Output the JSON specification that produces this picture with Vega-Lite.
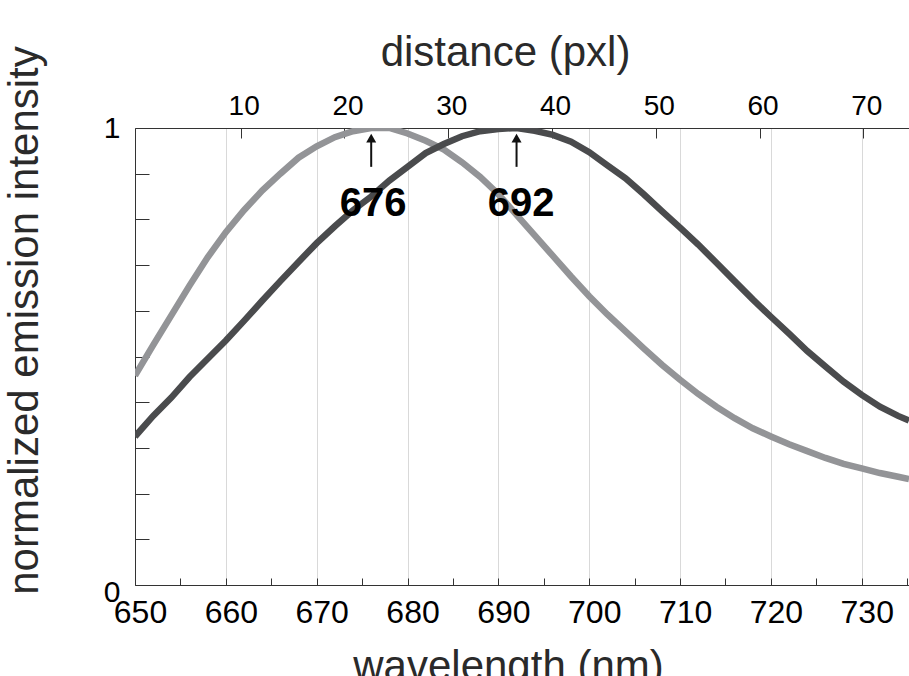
{
  "$schema": "https://vega.github.io/schema/vega-lite/v6.json",
  "width": 774,
  "height": 457,
  "autosize": {"type": "none"},
  "padding": {"left": 135, "top": 128, "right": 0, "bottom": 91},
  "config": {"view": {"stroke": null}, "font": "Liberation Sans"},
  "datasets": {
    "spectra": [
      {"wavelength": 650, "intensity": 0.458, "peak": "676"},
      {"wavelength": 652, "intensity": 0.525, "peak": "676"},
      {"wavelength": 654, "intensity": 0.59, "peak": "676"},
      {"wavelength": 656, "intensity": 0.655, "peak": "676"},
      {"wavelength": 658, "intensity": 0.717, "peak": "676"},
      {"wavelength": 660, "intensity": 0.772, "peak": "676"},
      {"wavelength": 662, "intensity": 0.82, "peak": "676"},
      {"wavelength": 664, "intensity": 0.863, "peak": "676"},
      {"wavelength": 666, "intensity": 0.9, "peak": "676"},
      {"wavelength": 668, "intensity": 0.935, "peak": "676"},
      {"wavelength": 670, "intensity": 0.96, "peak": "676"},
      {"wavelength": 672, "intensity": 0.98, "peak": "676"},
      {"wavelength": 674, "intensity": 0.993, "peak": "676"},
      {"wavelength": 676, "intensity": 1.0, "peak": "676"},
      {"wavelength": 678, "intensity": 1.0, "peak": "676"},
      {"wavelength": 680, "intensity": 0.988, "peak": "676"},
      {"wavelength": 682, "intensity": 0.972, "peak": "676"},
      {"wavelength": 684, "intensity": 0.953, "peak": "676"},
      {"wavelength": 686, "intensity": 0.925, "peak": "676"},
      {"wavelength": 688, "intensity": 0.893, "peak": "676"},
      {"wavelength": 690, "intensity": 0.855, "peak": "676"},
      {"wavelength": 692, "intensity": 0.81, "peak": "676"},
      {"wavelength": 694, "intensity": 0.765, "peak": "676"},
      {"wavelength": 696, "intensity": 0.72, "peak": "676"},
      {"wavelength": 698, "intensity": 0.675, "peak": "676"},
      {"wavelength": 700, "intensity": 0.632, "peak": "676"},
      {"wavelength": 702, "intensity": 0.592, "peak": "676"},
      {"wavelength": 704, "intensity": 0.555, "peak": "676"},
      {"wavelength": 706, "intensity": 0.518, "peak": "676"},
      {"wavelength": 708, "intensity": 0.482, "peak": "676"},
      {"wavelength": 710, "intensity": 0.449, "peak": "676"},
      {"wavelength": 712, "intensity": 0.418, "peak": "676"},
      {"wavelength": 714, "intensity": 0.39, "peak": "676"},
      {"wavelength": 716, "intensity": 0.365, "peak": "676"},
      {"wavelength": 718, "intensity": 0.343, "peak": "676"},
      {"wavelength": 720, "intensity": 0.325, "peak": "676"},
      {"wavelength": 722, "intensity": 0.308, "peak": "676"},
      {"wavelength": 724, "intensity": 0.293, "peak": "676"},
      {"wavelength": 726, "intensity": 0.278, "peak": "676"},
      {"wavelength": 728, "intensity": 0.265, "peak": "676"},
      {"wavelength": 730, "intensity": 0.255, "peak": "676"},
      {"wavelength": 732, "intensity": 0.245, "peak": "676"},
      {"wavelength": 734, "intensity": 0.237, "peak": "676"},
      {"wavelength": 735.2, "intensity": 0.232, "peak": "676"},
      {"wavelength": 650, "intensity": 0.325, "peak": "692"},
      {"wavelength": 652, "intensity": 0.37, "peak": "692"},
      {"wavelength": 654, "intensity": 0.41, "peak": "692"},
      {"wavelength": 656, "intensity": 0.455, "peak": "692"},
      {"wavelength": 658, "intensity": 0.495, "peak": "692"},
      {"wavelength": 660, "intensity": 0.535, "peak": "692"},
      {"wavelength": 662, "intensity": 0.578, "peak": "692"},
      {"wavelength": 664, "intensity": 0.622, "peak": "692"},
      {"wavelength": 666, "intensity": 0.665, "peak": "692"},
      {"wavelength": 668, "intensity": 0.707, "peak": "692"},
      {"wavelength": 670, "intensity": 0.748, "peak": "692"},
      {"wavelength": 672, "intensity": 0.785, "peak": "692"},
      {"wavelength": 674, "intensity": 0.82, "peak": "692"},
      {"wavelength": 676, "intensity": 0.85, "peak": "692"},
      {"wavelength": 678, "intensity": 0.885, "peak": "692"},
      {"wavelength": 680, "intensity": 0.915, "peak": "692"},
      {"wavelength": 682, "intensity": 0.945, "peak": "692"},
      {"wavelength": 684, "intensity": 0.965, "peak": "692"},
      {"wavelength": 686, "intensity": 0.982, "peak": "692"},
      {"wavelength": 688, "intensity": 0.993, "peak": "692"},
      {"wavelength": 690, "intensity": 0.998, "peak": "692"},
      {"wavelength": 692, "intensity": 1.0, "peak": "692"},
      {"wavelength": 694, "intensity": 0.994, "peak": "692"},
      {"wavelength": 696, "intensity": 0.985, "peak": "692"},
      {"wavelength": 698, "intensity": 0.97, "peak": "692"},
      {"wavelength": 700, "intensity": 0.947, "peak": "692"},
      {"wavelength": 702, "intensity": 0.918, "peak": "692"},
      {"wavelength": 704, "intensity": 0.89, "peak": "692"},
      {"wavelength": 706, "intensity": 0.855, "peak": "692"},
      {"wavelength": 708, "intensity": 0.818, "peak": "692"},
      {"wavelength": 710, "intensity": 0.782, "peak": "692"},
      {"wavelength": 712, "intensity": 0.745, "peak": "692"},
      {"wavelength": 714, "intensity": 0.705, "peak": "692"},
      {"wavelength": 716, "intensity": 0.665, "peak": "692"},
      {"wavelength": 718, "intensity": 0.625, "peak": "692"},
      {"wavelength": 720, "intensity": 0.587, "peak": "692"},
      {"wavelength": 722, "intensity": 0.55, "peak": "692"},
      {"wavelength": 724, "intensity": 0.512, "peak": "692"},
      {"wavelength": 726, "intensity": 0.478, "peak": "692"},
      {"wavelength": 728, "intensity": 0.445, "peak": "692"},
      {"wavelength": 730, "intensity": 0.416, "peak": "692"},
      {"wavelength": 732, "intensity": 0.39, "peak": "692"},
      {"wavelength": 734, "intensity": 0.37, "peak": "692"},
      {"wavelength": 735.2, "intensity": 0.36, "peak": "692"}
    ],
    "peaks": [
      {"peak": 676, "label": "676", "tx": 676.2, "tail": 0.915, "shaftTop": 0.974, "head": 0.978, "ty": 0.807},
      {"peak": 692, "label": "692", "tx": 692.5, "tail": 0.915, "shaftTop": 0.974, "head": 0.978, "ty": 0.807}
    ],
    "distance": [
      {"distance": -0.186},
      {"distance": 74.4}
    ]
  },
  "layer": [
    {
      "layer": [
        {
          "data": {"name": "spectra"},
          "mark": {"type": "line", "strokeWidth": 6.5, "clip": true},
          "encoding": {
            "x": {
              "field": "wavelength",
              "type": "quantitative",
              "title": "wavelength (nm)",
              "scale": {"domain": [650, 735.2], "nice": false, "zero": false},
              "axis": {
                "orient": "bottom",
                "values": [650, 655, 660, 665, 670, 675, 680, 685, 690, 695, 700, 705, 710, 715, 720, 725, 730, 735],
                "labelExpr": "datum.value % 10 == 0 ? datum.label : ''",
                "format": "d",
                "grid": true,
                "gridColor": "#d9d9d9",
                "gridWidth": 1,
                "gridOpacity": {"condition": {"test": "datum.value % 10 == 0 && datum.value > 650", "value": 1}, "value": 0},
                "tickSize": -7,
                "tickColor": "#333333",
                "domainColor": "#333333",
                "labelFontSize": 32,
                "labelColor": "#000000",
                "labelBaseline": "alphabetic",
                "labelPadding": 44,
                "labelOffset": 5,
                "labelFlush": false,
                "labelOverlap": false,
                "titleFontSize": 42,
                "titleFontWeight": "normal",
                "titleColor": "#2a2a2a",
                "titleBaseline": "alphabetic",
                "titleAlign": "center",
                "titleX": 373,
                "titleY": 94
              }
            },
            "y": {
              "field": "intensity",
              "type": "quantitative",
              "title": "normalized emission intensity",
              "scale": {"domain": [0, 1], "nice": false},
              "axis": {
                "values": [0, 0.1, 0.2, 0.3, 0.4, 0.5, 0.6, 0.7, 0.8, 0.9, 1],
                "labelExpr": "datum.value == 0 ? '0' : (datum.value == 1 ? '1' : '')",
                "grid": false,
                "tickSize": -14,
                "tickColor": "#333333",
                "domainColor": "#333333",
                "labelFontSize": 30,
                "labelColor": "#000000",
                "labelAlign": "right",
                "labelBaseline": "middle",
                "labelPadding": 29,
                "labelOffset": {"condition": {"test": "datum.value == 0", "value": 7}, "value": 0},
                "labelFlush": false,
                "labelOverlap": false,
                "titleFontSize": 42,
                "titleFontWeight": "normal",
                "titleColor": "#2a2a2a",
                "titleAngle": -90,
                "titleBaseline": "alphabetic",
                "titleAlign": "center",
                "titleX": -98,
                "titleY": 192
              }
            },
            "color": {
              "field": "peak",
              "type": "nominal",
              "scale": {"domain": ["676", "692"], "range": ["#939497", "#4a4b4d"]},
              "legend": null
            }
          }
        },
        {
          "data": {"name": "peaks"},
          "mark": {"type": "rule", "strokeWidth": 2, "color": "#111111"},
          "encoding": {
            "x": {"field": "peak", "type": "quantitative", "title": "wavelength (nm)"},
            "y": {"field": "tail", "type": "quantitative", "title": "normalized emission intensity"},
            "y2": {"field": "shaftTop"}
          }
        },
        {
          "data": {"name": "peaks"},
          "mark": {"type": "point", "shape": "triangle-up", "filled": true, "size": 100, "color": "#111111", "opacity": 1},
          "encoding": {
            "x": {"field": "peak", "type": "quantitative", "title": "wavelength (nm)"},
            "y": {"field": "head", "type": "quantitative", "title": "normalized emission intensity"}
          }
        },
        {
          "data": {"name": "peaks"},
          "mark": {"type": "text", "fontSize": 40, "fontWeight": "bold", "baseline": "alphabetic", "align": "center", "color": "#000000"},
          "encoding": {
            "x": {"field": "tx", "type": "quantitative", "title": "wavelength (nm)"},
            "y": {"field": "ty", "type": "quantitative", "title": "normalized emission intensity"},
            "text": {"field": "label"}
          }
        }
      ]
    },
    {
      "data": {"name": "distance"},
      "mark": {"type": "point", "opacity": 0},
      "encoding": {
        "x": {
          "field": "distance",
          "type": "quantitative",
          "scale": {"domain": [-0.186, 74.4], "nice": false, "zero": false},
          "axis": {
            "orient": "top",
            "values": [10, 20, 30, 40, 50, 60, 70],
            "format": "d",
            "grid": false,
            "tickSize": -10,
            "tickColor": "#333333",
            "domainColor": "#333333",
            "labelFontSize": 28,
            "labelColor": "#000000",
            "labelBaseline": "alphabetic",
            "labelPadding": 24,
            "labelOffset": 3,
            "labelFlush": false,
            "labelOverlap": false,
            "title": "distance (pxl)",
            "titleFontSize": 42,
            "titleFontWeight": "normal",
            "titleColor": "#2a2a2a",
            "titleBaseline": "alphabetic",
            "titleAlign": "center",
            "titleX": 370,
            "titleY": -63
          }
        }
      }
    }
  ],
  "resolve": {"scale": {"x": "independent"}}
}
